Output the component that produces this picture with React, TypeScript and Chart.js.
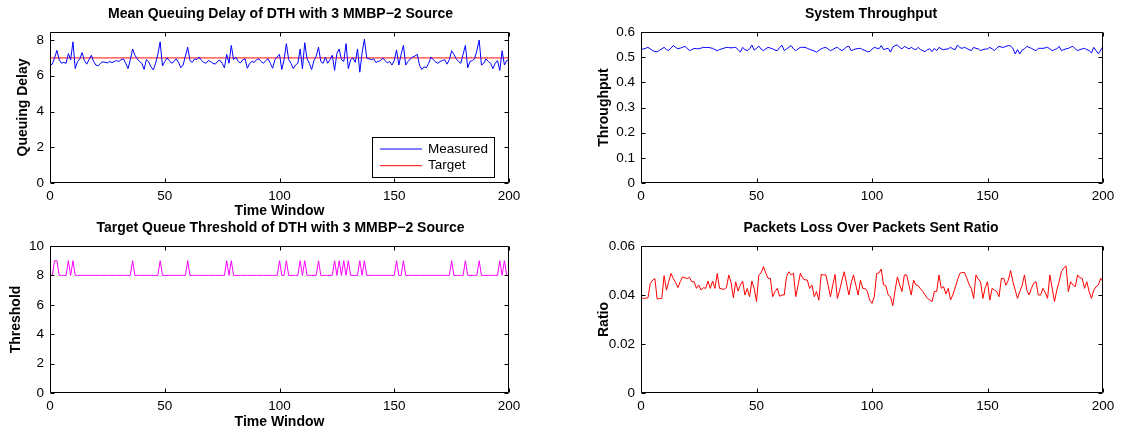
import React, { useEffect, useRef } from "react";
import { Chart, registerables } from "chart.js";

Chart.register(...registerables);

const FONT = "'Liberation Sans', Arial, Helvetica, sans-serif";
Chart.defaults.font.family = FONT;
Chart.defaults.font.size = 13.5;
Chart.defaults.color = "#000";

// ---------- data ----------
const timeWindow: number[] = Array.from({ length: 201 }, (_, i) => i);

const xTicks = [0, 50, 100, 150, 200];
const delayTicks = [0, 2, 4, 6, 8];
const throughputTicks = [0, 0.1, 0.2, 0.3, 0.4, 0.5, 0.6];
const thresholdTicks = [0, 2, 4, 6, 8, 10];
const ratioTicks = [0, 0.02, 0.04, 0.06];

const measuredDelay = [
  6.6,
  6.65, 7.0, 7.42, 6.9, 6.7, 6.75, 6.7, 7.24, 6.9, 7.9,
  6.4, 6.8, 6.95, 7.3, 6.85, 6.65, 6.9, 7.15, 6.8, 6.6,
  6.56, 6.7, 6.78, 6.75, 6.72, 6.8, 6.74, 6.8, 6.85, 6.8,
  6.9, 6.95, 6.7, 6.4, 6.9, 7.5, 7.15, 6.95, 6.8, 6.7,
  6.36, 6.9, 6.78, 6.5, 6.33, 6.7, 7.2, 7.9, 6.55, 6.8,
  7.0, 6.85, 6.7, 6.8, 6.95, 6.75, 6.45, 6.6, 7.1, 7.6,
  6.85, 6.75, 6.95, 6.9, 7.05, 6.85, 6.75, 6.7, 6.85, 6.8,
  6.7, 6.65, 6.8, 6.88, 6.7, 6.45, 7.2, 6.7, 7.7, 6.9,
  7.05, 6.8, 6.72, 6.9, 6.95, 6.42, 6.7, 6.8, 6.75, 6.9,
  6.95, 6.8, 6.7, 6.85, 6.95, 6.7, 6.42, 6.9, 7.05, 7.2,
  6.35, 6.9, 7.8, 6.9, 6.7, 6.4, 6.6, 6.7, 7.5, 6.4,
  7.85, 6.95, 6.7, 6.35, 6.85, 7.1, 7.6, 6.8, 6.7, 7.05,
  6.7, 6.9, 7.15, 6.3, 7.25, 7.5, 6.9, 6.8, 7.8, 6.4,
  6.9, 7.0, 6.75, 7.5, 6.2, 7.3, 8.05, 7.0, 6.95, 6.9,
  6.95, 6.75, 6.8, 6.85, 7.0, 6.85, 6.72, 6.8, 6.6, 6.85,
  7.45, 6.6, 7.2, 7.7, 6.6, 6.8, 6.95, 7.05, 7.1, 7.2,
  6.6, 6.35, 6.5, 6.45, 6.7, 7.05, 6.9, 6.78, 6.7, 6.8,
  6.85, 6.9, 6.65, 6.9, 7.4, 7.2, 6.95, 6.8, 6.7, 7.2,
  7.7, 6.45, 6.8, 6.85, 6.95, 7.4, 8.0, 6.6, 6.7, 6.95,
  6.8, 6.7, 6.4, 6.7, 6.85, 6.3, 7.4, 6.6, 6.85, 6.9,
];

const targetDelay = timeWindow.map(() => 7);

const throughput = [
  0.530, 0.533, 0.535, 0.539, 0.533, 0.526, 0.523, 0.521, 0.527, 0.533,
  0.539, 0.530, 0.527, 0.536, 0.546, 0.539, 0.533, 0.536, 0.539, 0.543,
  0.535, 0.526, 0.530, 0.535, 0.534, 0.533, 0.536, 0.539, 0.538, 0.539,
  0.537, 0.535, 0.530, 0.526, 0.530, 0.533, 0.536, 0.539, 0.538, 0.537,
  0.538, 0.539, 0.530, 0.520, 0.539, 0.530, 0.526, 0.533, 0.548, 0.528,
  0.535, 0.544, 0.532, 0.526, 0.533, 0.539, 0.536, 0.533, 0.528, 0.526,
  0.538, 0.548, 0.526, 0.533, 0.539, 0.546, 0.533, 0.526, 0.533, 0.539,
  0.539, 0.539, 0.535, 0.531, 0.528, 0.524, 0.520, 0.527, 0.533, 0.537,
  0.539, 0.532, 0.526, 0.530, 0.536, 0.539, 0.531, 0.526, 0.533, 0.541,
  0.543, 0.526, 0.530, 0.533, 0.534, 0.535, 0.530, 0.526, 0.522, 0.522,
  0.532, 0.539, 0.536, 0.533, 0.546, 0.530, 0.533, 0.535, 0.520, 0.540,
  0.546, 0.548, 0.539, 0.533, 0.543, 0.538, 0.533, 0.539, 0.533, 0.530,
  0.539, 0.530, 0.526, 0.522, 0.530, 0.533, 0.522, 0.535, 0.526, 0.539,
  0.533, 0.530, 0.532, 0.533, 0.539, 0.533, 0.530, 0.548, 0.538, 0.535,
  0.539, 0.535, 0.530, 0.526, 0.539, 0.535, 0.533, 0.526, 0.530, 0.532,
  0.533, 0.539, 0.533, 0.526, 0.536, 0.543, 0.540, 0.539, 0.543, 0.546,
  0.544, 0.535, 0.513, 0.530, 0.513, 0.528, 0.533, 0.543, 0.539, 0.535,
  0.530, 0.526, 0.535, 0.535, 0.535, 0.537, 0.539, 0.533, 0.526, 0.530,
  0.533, 0.543, 0.526, 0.530, 0.533, 0.535, 0.540, 0.543, 0.533, 0.526,
  0.530, 0.533, 0.535, 0.530, 0.526, 0.517, 0.539, 0.526, 0.513, 0.528,
  0.543,
];

const threshold = [
  8, 8, 9, 9, 8, 8, 8, 8, 9, 8,
  9, 8, 8, 8, 8, 8, 8, 8, 8, 8,
  8, 8, 8, 8, 8, 8, 8, 8, 8, 8,
  8, 8, 8, 8, 8, 8, 9, 8, 8, 8,
  8, 8, 8, 8, 8, 8, 8, 8, 9, 8,
  8, 8, 8, 8, 8, 8, 8, 8, 8, 8,
  9, 8, 8, 8, 8, 8, 8, 8, 8, 8,
  8, 8, 8, 8, 8, 8, 8, 9, 8, 9,
  8, 8, 8, 8, 8, 8, 8, 8, 8, 8,
  8, 8, 8, 8, 8, 8, 8, 8, 8, 8,
  9, 8, 8, 9, 8, 8, 8, 8, 8, 9,
  8, 9, 8, 8, 8, 8, 8, 9, 8, 8,
  8, 8, 8, 8, 9, 8, 9, 8, 9, 8,
  9, 8, 8, 8, 8, 9, 8, 9, 8, 8,
  8, 8, 8, 8, 8, 8, 8, 8, 8, 8,
  8, 9, 8, 8, 9, 8, 8, 8, 8, 8,
  8, 8, 8, 8, 8, 8, 8, 8, 8, 8,
  8, 8, 8, 8, 8, 9, 8, 8, 8, 8,
  8, 9, 8, 8, 8, 8, 8, 9, 8, 8,
  8, 8, 8, 8, 8, 8, 9, 8, 9, 8,
  8,
];

const lossRatio = [
  0.0390,
  0.0386, 0.0387, 0.0388, 0.0447, 0.0460, 0.0467, 0.0384, 0.0385, 0.0386, 0.0479,
  0.0420, 0.0455, 0.0488, 0.0467, 0.0450, 0.0430, 0.0455, 0.0474, 0.0470, 0.0468,
  0.0472, 0.0454, 0.0454, 0.0427, 0.0441, 0.0420, 0.0430, 0.0427, 0.0457, 0.0427,
  0.0457, 0.0427, 0.0488, 0.0427, 0.0425, 0.0423, 0.0430, 0.0482, 0.0450, 0.0389,
  0.0454, 0.0416, 0.0440, 0.0457, 0.0400, 0.0427, 0.0393, 0.0457, 0.0427, 0.0373,
  0.0482, 0.0490, 0.0516, 0.0490, 0.0468, 0.0468, 0.0393, 0.0414, 0.0427, 0.0395,
  0.0400, 0.0400, 0.0475, 0.0495, 0.0482, 0.0489, 0.0393, 0.0440, 0.0489, 0.0468,
  0.0462, 0.0461, 0.0427, 0.0441, 0.0393, 0.0414, 0.0379, 0.0484, 0.0482, 0.0482,
  0.0440, 0.0393, 0.0440, 0.0484, 0.0386, 0.0420, 0.0460, 0.0495, 0.0445, 0.0400,
  0.0450, 0.0482, 0.0440, 0.0400, 0.0461, 0.0427, 0.0427, 0.0414, 0.0379, 0.0366,
  0.0393, 0.0488, 0.0490, 0.0506, 0.0441, 0.0438, 0.0400, 0.0393, 0.0356, 0.0420,
  0.0474, 0.0440, 0.0414, 0.0482, 0.0482, 0.0440, 0.0400, 0.0461, 0.0441, 0.0438,
  0.0425, 0.0414, 0.0400, 0.0386, 0.0380, 0.0373, 0.0414, 0.0414, 0.0482, 0.0427,
  0.0434, 0.0404, 0.0427, 0.0380, 0.0400, 0.0430, 0.0461, 0.0488, 0.0492, 0.0492,
  0.0470, 0.0444, 0.0427, 0.0386, 0.0482, 0.0465, 0.0454, 0.0386, 0.0430, 0.0454,
  0.0379, 0.0427, 0.0420, 0.0414, 0.0393, 0.0468, 0.0468, 0.0440, 0.0460, 0.0500,
  0.0454, 0.0420, 0.0386, 0.0414, 0.0440, 0.0482, 0.0420, 0.0400, 0.0427, 0.0448,
  0.0454, 0.0400, 0.0400, 0.0427, 0.0410, 0.0386, 0.0482, 0.0427, 0.0373, 0.0420,
  0.0454, 0.0495, 0.0510, 0.0519, 0.0414, 0.0454, 0.0441, 0.0434, 0.0482, 0.0470,
  0.0468, 0.0427, 0.0454, 0.0414, 0.0386, 0.0420, 0.0434, 0.0441, 0.0468, 0.0455,
];

// ---------- plugins ----------
const framePlugin = {
  id: "matlabFrame",
  afterDatasetsDraw(chart: any) {
    const { ctx, chartArea: a } = chart;
    const xs = chart.scales.x;
    const ys = chart.scales.y;
    const L = Math.round(a.left) + 0.5;
    const R = Math.round(a.right) - 0.5;
    const T = Math.round(a.top) + 0.5;
    const B = Math.round(a.bottom) - 0.5;
    const tk = 4;
    ctx.save();
    ctx.strokeStyle = "#000";
    ctx.lineWidth = 1;
    ctx.beginPath();
    ctx.rect(L, T, R - L, B - T);
    for (const t of xs.ticks) {
      const px = Math.round(xs.getPixelForValue(t.value)) + 0.5;
      ctx.moveTo(px, B);
      ctx.lineTo(px, B - tk);
      ctx.moveTo(px, T);
      ctx.lineTo(px, T + tk);
    }
    for (const t of ys.ticks) {
      const py = Math.round(ys.getPixelForValue(t.value)) + 0.5;
      ctx.moveTo(L, py);
      ctx.lineTo(L + tk, py);
      ctx.moveTo(R, py);
      ctx.lineTo(R - tk, py);
    }
    ctx.stroke();
    ctx.restore();
  },
};

const insideLegendPlugin = {
  id: "insideLegend",
  afterDraw(chart: any) {
    const { ctx, chartArea: a } = chart;
    const w = 122;
    const h = 40;
    const x0 = Math.round(a.right - 15 - w);
    const y0 = Math.round(a.bottom - 6 - h);
    ctx.save();
    ctx.fillStyle = "#fff";
    ctx.fillRect(x0, y0, w, h);
    ctx.strokeStyle = "#000";
    ctx.lineWidth = 1;
    ctx.strokeRect(x0 + 0.5, y0 + 0.5, w, h);
    chart.data.datasets.forEach((ds: any, i: number) => {
      const y = y0 + 12 + i * 16.7;
      ctx.strokeStyle = ds.borderColor;
      ctx.beginPath();
      ctx.moveTo(x0 + 8, y);
      ctx.lineTo(x0 + 50, y);
      ctx.stroke();
      ctx.fillStyle = "#000";
      ctx.font = `13.5px ${FONT}`;
      ctx.textBaseline = "middle";
      ctx.textAlign = "left";
      ctx.fillText(ds.label, x0 + 56, y);
    });
    ctx.restore();
  },
};

// ---------- panels ----------
type Series = { label: string; values: number[]; color: string };
type PanelSpec = {
  key: string;
  box: { x: number; y: number; w: number; h: number };
  title: string;
  yTitle: string;
  yTitlePad: number;
  xTitle: string | null;
  yMax: number;
  yTickValues: number[];
  yAxisW: number;
  rightW: number;
  xAxisH: number;
  series: Series[];
  legend: boolean;
};

const panels: PanelSpec[] = [
  {
    key: "delay",
    box: { x: 0, y: 0, w: 561, h: 223 },
    title: "Mean Queuing Delay of DTH with 3 MMBP\u22122 Source",
    yTitle: "Queuing Delay",
    yTitlePad: 14.6,
    xTitle: "Time Window",
    yMax: 8.45,
    yTickValues: delayTicks,
    yAxisW: 50,
    rightW: 52,
    xAxisH: 40,
    series: [
      { label: "Measured", values: measuredDelay, color: "#0000ff" },
      { label: "Target", values: targetDelay, color: "#ff0000" },
    ],
    legend: true,
  },
  {
    key: "throughput",
    box: { x: 590, y: 0, w: 562, h: 223 },
    title: "System Throughput",
    yTitle: "Throughput",
    yTitlePad: 5.6,
    xTitle: null,
    yMax: 0.6,
    yTickValues: throughputTicks,
    yAxisW: 51,
    rightW: 49,
    xAxisH: 40,
    series: [{ label: "Throughput", values: throughput, color: "#0000ff" }],
    legend: false,
  },
  {
    key: "threshold",
    box: { x: 0, y: 214, w: 561, h: 220 },
    title: "Target Queue Threshold of DTH with 3 MMBP\u22122 Source",
    yTitle: "Threshold",
    yTitlePad: 7.6,
    xTitle: "Time Window",
    yMax: 10,
    yTickValues: thresholdTicks,
    yAxisW: 50,
    rightW: 52,
    xAxisH: 41,
    series: [{ label: "Threshold", values: threshold, color: "#ff00ff" }],
    legend: false,
  },
  {
    key: "ratio",
    box: { x: 590, y: 214, w: 562, h: 220 },
    title: "Packets Loss Over Packets Sent Ratio",
    yTitle: "Ratio",
    yTitlePad: 5.6,
    xTitle: null,
    yMax: 0.06,
    yTickValues: ratioTicks,
    yAxisW: 51,
    rightW: 49,
    xAxisH: 41,
    series: [{ label: "Ratio", values: lossRatio, color: "#ff0000" }],
    legend: false,
  },
];

function buildConfig(p: PanelSpec): any {
  const boldFont = { family: FONT, size: 14, weight: "bold" as const };
  return {
    type: "line",
    data: {
      datasets: p.series.map((s) => ({
        label: s.label,
        data: timeWindow.map((x, i) => ({ x, y: s.values[i] })),
        borderColor: s.color,
        backgroundColor: s.color,
        borderWidth: 1,
        pointRadius: 0,
        tension: 0,
        fill: false,
      })),
    },
    options: {
      responsive: false,
      animation: false,
      devicePixelRatio: 1,
      events: [],
      layout: { padding: 0 },
      plugins: {
        legend: { display: false },
        tooltip: { enabled: false },
        title: {
          display: true,
          text: p.title,
          color: "#000",
          font: boldFont,
          padding: { top: 5.3, bottom: 9.9 },
        },
      },
      scales: {
        x: {
          type: "linear",
          position: "bottom",
          min: 0,
          max: 200,
          grid: { display: false, drawTicks: false },
          border: { display: false },
          ticks: { padding: 5, maxRotation: 0, autoSkip: false, font: { size: 13.5 }, callback: (v: number) => String(v) },
          afterBuildTicks: (s: any) => {
            s.ticks = xTicks.map((v) => ({ value: v }));
          },
          title: p.xTitle
            ? { display: true, text: p.xTitle, font: boldFont, padding: { top: 0, bottom: 3.1 } }
            : { display: false },
          afterFit: (s: any) => {
            s.height = p.xAxisH;
          },
        },
        y: {
          type: "linear",
          position: "left",
          min: 0,
          max: p.yMax,
          grid: { display: false, drawTicks: false },
          border: { display: false },
          ticks: { padding: 6, autoSkip: false, font: { size: 13.5 }, callback: (v: number) => String(v) },
          afterBuildTicks: (s: any) => {
            s.ticks = p.yTickValues.map((v) => ({ value: v }));
          },
          title: { display: true, text: p.yTitle, font: boldFont, padding: { top: p.yTitlePad, bottom: 0 } },
          afterFit: (s: any) => {
            s.width = p.yAxisW;
          },
        },
        r: {
          type: "linear",
          position: "right",
          display: true,
          grid: { display: false, drawTicks: false },
          border: { display: false },
          ticks: { display: false },
          afterFit: (s: any) => {
            s.width = p.rightW;
          },
        },
      },
    },
    plugins: p.legend ? [framePlugin, insideLegendPlugin] : [framePlugin],
  };
}

function Panel({ spec }: { spec: PanelSpec }) {
  const ref = useRef<HTMLCanvasElement | null>(null);
  useEffect(() => {
    if (!ref.current) return;
    const chart = new Chart(ref.current, buildConfig(spec));
    return () => chart.destroy();
  }, [spec]);
  return (
    <canvas
      ref={ref}
      width={spec.box.w}
      height={spec.box.h}
      style={{
        position: "absolute",
        left: spec.box.x,
        top: spec.box.y,
        width: spec.box.w,
        height: spec.box.h,
      }}
    />
  );
}

export default function App() {
  useEffect(() => {
    document.body.style.margin = "0";
  }, []);
  return (
    <div
      style={{
        position: "absolute",
        left: 0,
        top: 0,
        width: 1125,
        height: 435,
        overflow: "hidden",
        background: "#fff",
      }}
    >
      {panels.map((p) => (
        <Panel key={p.key} spec={p} />
      ))}
    </div>
  );
}
